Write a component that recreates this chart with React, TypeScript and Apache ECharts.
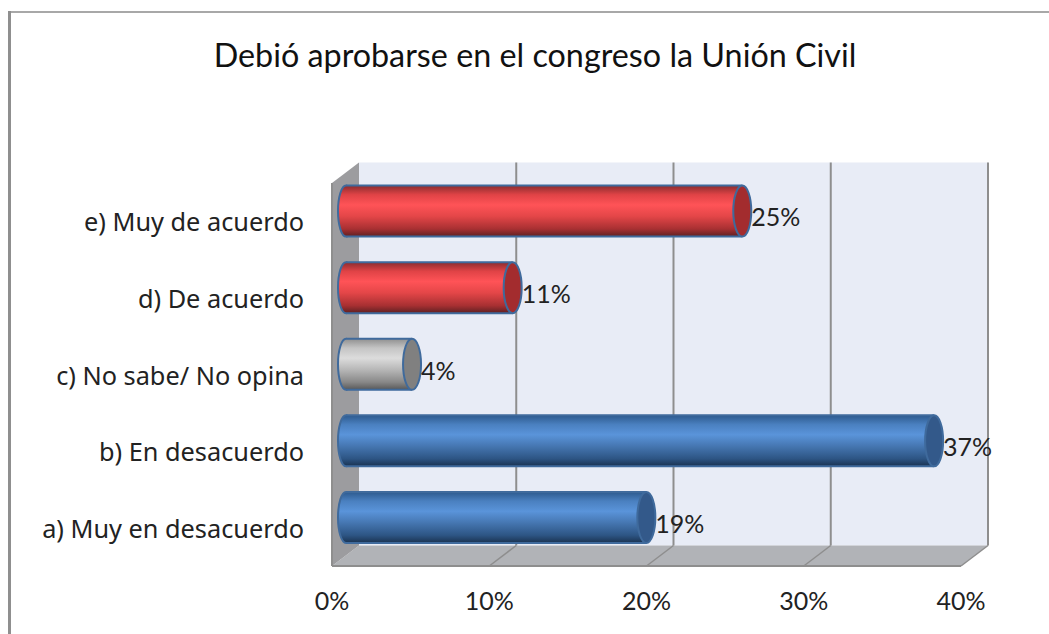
import React, { useEffect, useRef } from "react";
import * as echarts from "echarts";

const titleText = "Debió aprobarse en el congreso la Unión Civil";
const categories = ["a) Muy en desacuerdo", "b) En desacuerdo", "c) No sabe/ No opina", "d) De acuerdo", "e) Muy de acuerdo"];
const values = [19.1, 37.4, 4.2, 10.6, 25.2];
const xTicks = [0, 10, 20, 30, 40];

const blue = { stops: ["#2d5a8e", "#4a80c0", "#5a94da", "#4677b2", "#2d5584", "#1a3250"], cap: "#33598a" };
const red = { stops: ["#8a2c2e", "#e04346", "#ff5357", "#e44648", "#a83032", "#5e2022"], cap: "#a32c2e" };
const gray = { stops: ["#8f8f8f", "#c4c4c4", "#dcdcdc", "#b8b8b8", "#888888", "#585858"], cap: "#808080" };
const palette = [blue, blue, gray, red, red];
const FONT = "Lato, Carlito, sans-serif";
const LABEL_FONT = "'Noto Sans', sans-serif";
const DX = 27;
const DY = -20.5;

function cylinderFill(stops: string[]) {
  const at = [0, 0.18, 0.38, 0.6, 0.85, 1];
  return new echarts.graphic.LinearGradient(0, 0, 0, 1, stops.map((color, i) => ({ offset: at[i], color })));
}

function renderWalls(params: any, api: any) {
  const v = api.value(0);
  const cs = params.coordSys;
  const top = cs.y;
  const bottom = cs.y + cs.height;
  const x = api.coord([v, 0])[0];
  const xEnd = cs.x + cs.width;
  const children: any[] = [];
  if (params.dataIndex === 0) {
    children.push(
      { type: "polygon", shape: { points: [[cs.x + DX, top + DY], [xEnd + DX, top + DY], [xEnd + DX, bottom + DY], [cs.x + DX, bottom + DY]] }, style: { fill: "#e8ecf6" } },
      { type: "polygon", shape: { points: [[cs.x, bottom], [xEnd, bottom], [xEnd + DX, bottom + DY], [cs.x + DX, bottom + DY]] }, style: { fill: "#b1b3b7" } },
      { type: "polygon", shape: { points: [[cs.x, top], [cs.x + DX, top + DY], [cs.x + DX, bottom + DY], [cs.x, bottom]] }, style: { fill: "#9c9c9f" } },
      { type: "line", shape: { x1: cs.x, y1: top, x2: cs.x, y2: bottom }, style: { stroke: "#8e8e8e", lineWidth: 2 } },
      { type: "line", shape: { x1: cs.x, y1: bottom, x2: xEnd, y2: bottom }, style: { stroke: "#8e8e8e", lineWidth: 2 } }
    );
  }
  if (v > 0) {
    children.push(
      { type: "line", shape: { x1: x + DX, y1: top + DY, x2: x + DX, y2: bottom + DY }, style: { stroke: "#8e8e8e", lineWidth: 2 } },
      { type: "line", shape: { x1: x, y1: bottom, x2: x + DX, y2: bottom + DY }, style: { stroke: "#8e8e8e", lineWidth: 1.5 } }
    );
  }
  return { type: "group", children };
}

function renderBar(params: any, api: any) {
  const val = api.value(0);
  const cat = api.value(1);
  const i = params.dataIndex;
  const c = palette[i];
  const start = api.coord([0, cat]);
  const end = api.coord([val, cat]);
  const offX = DX / 2 + 0.5;
  const offY = DY / 2;
  const y = start[1] + offY;
  const x0 = start[0] + offX;
  const x1 = end[0] + offX;
  const h = 51;
  const rx = 9;
  const edge = "#3f6a9c";
  const fill = cylinderFill(c.stops);
  const line = { stroke: edge, lineWidth: 2 };
  return {
    type: "group",
    children: [
      { type: "ellipse", shape: { cx: x0, cy: y, rx: 8, ry: h / 2 }, style: { fill, ...line } },
      { type: "rect", shape: { x: x0, y: y - h / 2, width: x1 - x0, height: h }, style: { fill } },
      { type: "line", shape: { x1: x0, y1: y - h / 2, x2: x1, y2: y - h / 2 }, style: line },
      { type: "line", shape: { x1: x0, y1: y + h / 2, x2: x1, y2: y + h / 2 }, style: line },
      { type: "ellipse", shape: { cx: x1, cy: y, rx, ry: h / 2 }, style: { fill: c.cap, ...line } },
      {
        type: "text",
        x: x1 + rx,
        y: end[1] - 5,
        style: { text: Math.round(val) + "%", fill: "#222222", font: `25px ${FONT}`, textAlign: "left", textVerticalAlign: "middle" },
      },
    ],
  };
}

export default function App() {
  const ref = useRef<HTMLDivElement>(null);
  useEffect(() => {
    const chart = echarts.init(ref.current!, undefined, { renderer: "svg" });
    chart.setOption({
      animation: false,
      backgroundColor: "#ffffff",
      title: {
        text: titleText,
        left: 530,
        top: 33,
        textAlign: "center",
        textStyle: { fontFamily: FONT, fontSize: 32.3, fontWeight: "normal", color: "#111111" },
      },
      grid: { left: 332, top: 183, width: 629, height: 383 },
      xAxis: {
        type: "value",
        min: 0,
        max: 40,
        interval: 10,
        axisLine: { show: false },
        axisTick: { show: false },
        splitLine: { show: false },
        axisLabel: { formatter: "{value}%", fontFamily: FONT, fontSize: 25, color: "#222222", margin: 21 },
      },
      yAxis: {
        type: "category",
        data: categories,
        axisLine: { show: false },
        axisTick: { show: false },
        axisLabel: { fontFamily: LABEL_FONT, fontSize: 25.3, color: "#222222", margin: 28 },
      },
      series: [
        { type: "custom", name: "walls", silent: true, clip: false, z: 1, coordinateSystem: "cartesian2d", encode: { x: 0 }, data: xTicks.map((t) => [t]), renderItem: renderWalls },
        { type: "custom", name: "bars", silent: true, clip: false, z: 2, coordinateSystem: "cartesian2d", encode: { x: 0, y: 1 }, data: values.map((v, i) => [v, i]), renderItem: renderBar },
      ],
      graphic: [
        { type: "rect", left: 8, top: 11, shape: { width: 1041, height: 2 }, style: { fill: "#a8a8a8" } },
        { type: "rect", left: 8, top: 11, shape: { width: 3, height: 623 }, style: { fill: "#8f8f8f" } },
      ],
    });
    return () => chart.dispose();
  }, []);
  return <div ref={ref} style={{ position: "absolute", left: 0, top: 0, width: 1049, height: 634 }} />;
}
